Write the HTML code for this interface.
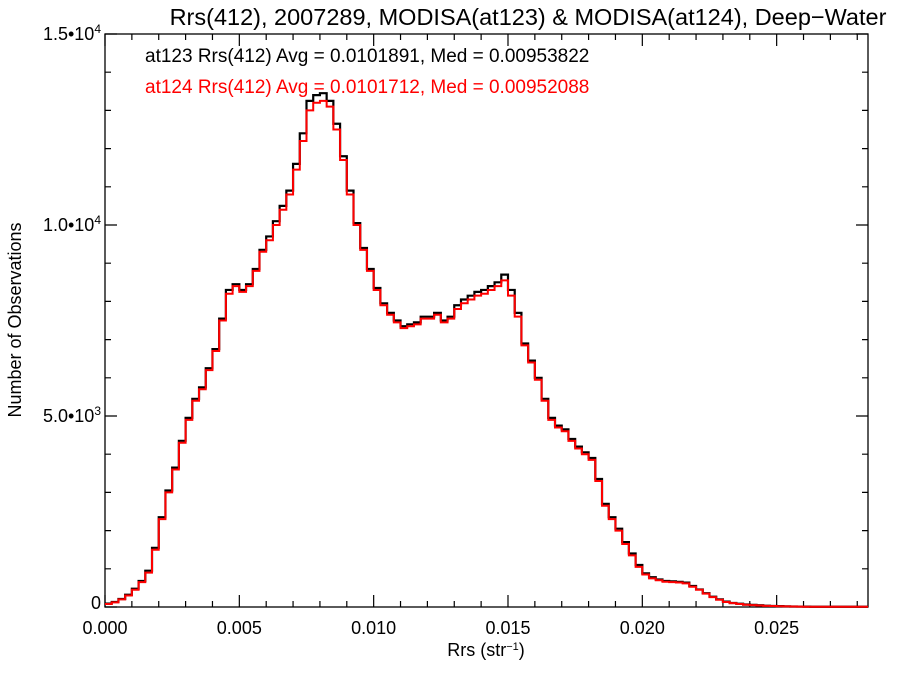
<!DOCTYPE html>
<html><head><meta charset="utf-8"><style>
body{margin:0;background:#fff;}
svg text{font-family:"Liberation Sans",sans-serif;}
</style></head><body>
<svg id="chart" width="900" height="675" viewBox="0 0 900 675">
<rect width="900" height="675" fill="#fff"/>
<text x="528" y="25" font-size="23.5" text-anchor="middle">Rrs(412), 2007289, MODISA(at123) &amp; MODISA(at124), Deep−Water</text>
<text x="145" y="62" font-size="19" fill="#000">at123 Rrs(412) Avg = 0.0101891, Med = 0.00953822</text>
<text x="145" y="93" font-size="19" fill="#ff0000">at124 Rrs(412) Avg = 0.0101712, Med = 0.00952088</text>
<text transform="translate(21,320) rotate(-90)" font-size="18" text-anchor="middle">Number of Observations</text>
<text x="486" y="656" font-size="18" text-anchor="middle">Rrs (str<tspan dy="-6" font-size="11">−1</tspan><tspan dy="6">)</tspan></text>
<g id="axes"></g>
<g id="series"></g>
</svg>
<script>
const binWidth = 0.00025;
const xTickLabels = ["0.000","0.005","0.010","0.015","0.020","0.025"];
const xTickValues = [0,0.005,0.010,0.015,0.020,0.025];
const yTickValues = [0,5000,10000,15000];
const yTickLabels = ["0","5.0•10","1.0•10","1.5•10"];
const at124 = [80,120,200,300,450,650,900,1500,2300,3000,3600,4300,4900,5400,5700,6200,6700,7500,8200,8400,8250,8400,8800,9300,9600,10000,10400,10800,11450,12200,13000,13200,13250,13100,12500,11700,10800,10000,9350,8800,8300,7900,7650,7450,7300,7350,7400,7550,7550,7650,7450,7550,7800,7950,8050,8150,8200,8300,8400,8550,8150,7600,6850,6400,5950,5400,4900,4700,4600,4350,4150,4000,3850,3300,2650,2300,2000,1650,1350,1050,850,750,700,660,650,640,620,530,450,350,260,190,130,100,80,60,50,40,30,25,20,15,12,10,8,5];
const at123 = [90,130,210,320,480,680,950,1550,2350,3050,3650,4350,4950,5450,5750,6250,6750,7550,8300,8450,8300,8450,8850,9350,9700,10100,10500,10900,11600,12400,13250,13400,13450,13250,12650,11800,10900,10050,9400,8850,8350,7950,7700,7500,7350,7400,7450,7600,7600,7700,7500,7600,7900,8050,8150,8250,8300,8400,8500,8700,8300,7700,6900,6450,6000,5450,4950,4750,4650,4400,4200,4050,3900,3350,2700,2350,2050,1700,1400,1100,880,780,720,680,670,660,640,550,460,360,270,200,140,105,85,65,55,45,35,28,22,17,13,11,9,6];

const L=105,R=868,T=34,B=607,xMax=0.0284,yMax=15000;
const xs=v=>L+v/xMax*(R-L);
const ys=v=>B-v/yMax*(B-T);
const NS="http://www.w3.org/2000/svg";
const axes=document.getElementById('axes');
const frame=document.createElementNS(NS,'rect');
frame.setAttribute('x',L);frame.setAttribute('y',T);frame.setAttribute('width',R-L);frame.setAttribute('height',B-T);
frame.setAttribute('fill','none');frame.setAttribute('stroke','#000');frame.setAttribute('stroke-width','1.3');


axes.appendChild(frame);
let tk='';
for(let i=0;i<=28;i++){const x=xs(i*0.001);const len=i%5==0?12:6;tk+=`M${x} ${B}V${B-len}M${x} ${T}V${T+len}`;}
for(let i=0;i<=15;i++){const y=ys(i*1000);const len=i%5==0?12:6;tk+=`M${L} ${y}H${L+len}M${R} ${y}H${R-len}`;}
const tp=document.createElementNS(NS,'path');
tp.setAttribute('d',tk);tp.setAttribute('stroke','#000');tp.setAttribute('stroke-width','1.2');


axes.appendChild(tp);
xTickValues.forEach((v,i)=>{
 const t=document.createElementNS(NS,'text');
 t.setAttribute('x',xs(v));t.setAttribute('y',B+27);t.setAttribute('font-size','18');t.setAttribute('text-anchor','middle');
 t.textContent=xTickLabels[i];
 
 
 axes.appendChild(t);
});
yTickValues.forEach((v,i)=>{
 const t=document.createElementNS(NS,'text');
 t.setAttribute('x',L-4);t.setAttribute('y',ys(v)+(i==0?2:6));t.setAttribute('font-size','18');t.setAttribute('text-anchor','end');
 t.textContent=yTickLabels[i];
 if(i>0){const s=document.createElementNS(NS,'tspan');s.setAttribute('dy','-7');s.setAttribute('font-size','12');s.textContent=(i==1?'3':'4');t.appendChild(s);}
 
 
 axes.appendChild(t);
});
function stepPath(arr){
 let d=`M${xs(0)} ${ys(arr[0])}`;
 arr.forEach((v,i)=>{d+=`H${xs(i*binWidth)}V${ys(v)}H${xs((i+1)*binWidth)}`;});
 d+=`H${R}`;
 return d;
}
const g=document.getElementById('series');
const p1=document.createElementNS(NS,'path');
p1.setAttribute('d',stepPath(at123));p1.setAttribute('fill','none');p1.setAttribute('stroke','#000');p1.setAttribute('stroke-width','2.2');


g.appendChild(p1);
const p2=document.createElementNS(NS,'path');
p2.setAttribute('d',stepPath(at124));p2.setAttribute('fill','none');p2.setAttribute('stroke','#ff0000');p2.setAttribute('stroke-width','2');


g.appendChild(p2);
</script>
</body></html>
